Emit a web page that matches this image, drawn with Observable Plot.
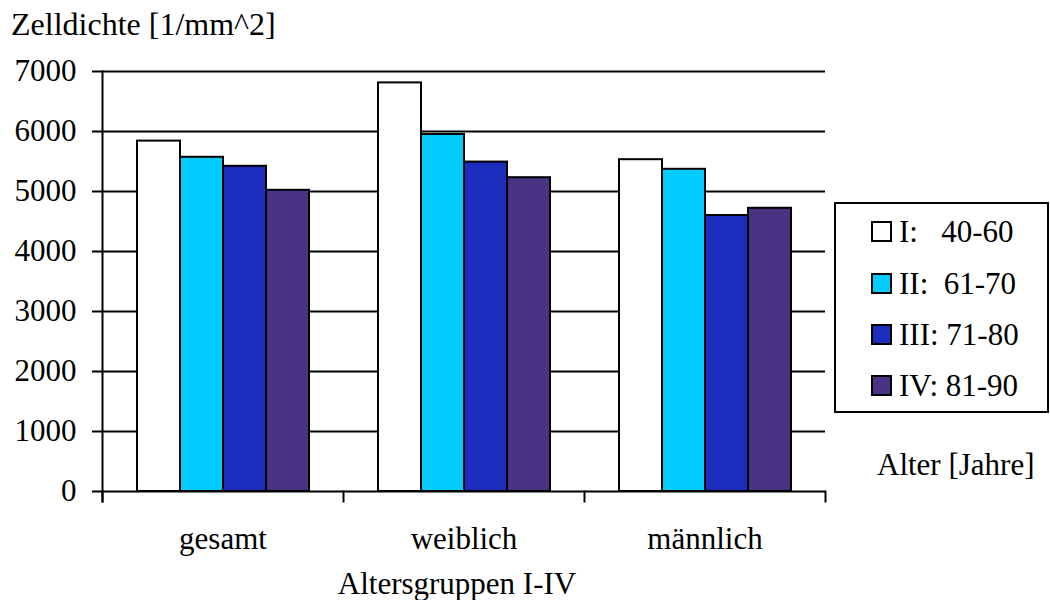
<!DOCTYPE html>
<html><head><meta charset="utf-8">
<script src="https://cdn.jsdelivr.net/npm/d3@7"></script>
<script src="https://cdn.jsdelivr.net/npm/@observablehq/plot@0.6"></script>
<style>
body{margin:0;background:#fff;}
#wrap{position:relative;width:1050px;height:600px;font-family:"Liberation Serif","Times New Roman",serif;color:#000;overflow:hidden;}
#wrap svg{position:absolute;left:0;top:0;}
.t{position:absolute;font-size:31px;line-height:31px;white-space:pre;}
#legend{position:absolute;left:834px;top:202px;width:215px;height:211px;box-sizing:border-box;border:2px solid #000;background:#fff;}
.sw{position:absolute;width:21px;height:21px;box-sizing:border-box;border:2px solid #000;}
</style></head><body><div id="wrap"></div>
<script>
const groups = ["gesamt", "weiblich", "männlich"];
const seriesKeys = ["I", "II", "III", "IV"];
const seriesLabels = ["I:   40-60", "II:  61-70", "III: 71-80", "IV: 81-90"];
const seriesColors = ["#ffffff", "#00ccff", "#1c2dbe", "#4b3384"];
const valuesGesamt = [5840, 5570, 5420, 5020];
const valuesWeiblich = [6810, 5950, 5490, 5230];
const valuesMaennlich = [5530, 5370, 4600, 4720];
const yTicks = [0, 1000, 2000, 3000, 4000, 5000, 6000, 7000];
const titleText = "Zelldichte [1/mm^2]";
const xLabelText = "Altersgruppen I-IV";
const legendTitleText = "Alter [Jahre]";

const valueRows = [valuesGesamt, valuesWeiblich, valuesMaennlich];
const data = groups.flatMap((g, gi) => seriesKeys.map((s, si) => ({group: g, series: s, value: valueRows[gi][si]})));

const FONT = "Liberation Serif, Times New Roman, serif";

const chart = Plot.plot({
  width: 1050, height: 600,
  marginLeft: 102, marginRight: 225, marginTop: 71, marginBottom: 109,
  style: {fontFamily: FONT, fontSize: "31px", background: "#fff", color: "#000"},
  fx: {domain: groups, padding: 0, label: null},
  x: {domain: seriesKeys, paddingInner: 0, paddingOuter: 0.75, axis: null},
  y: {domain: [0, 7000], label: null},
  color: {domain: seriesKeys, range: seriesColors},
  marks: [
    Plot.ruleY(yTicks, {stroke: "#000", strokeWidth: 2}),
    Plot.barY(data, {fx: "group", x: "series", y: "value", fill: "series", stroke: "#000", strokeWidth: 2}),
    Plot.frame({anchor: "left", facetAnchor: "left", stroke: "#000", strokeWidth: 2, insetBottom: -10}),
    Plot.frame({anchor: "left", stroke: "#000", strokeWidth: 2, insetTop: 420, insetBottom: -10}),
    Plot.frame({anchor: "right", facetAnchor: "right", stroke: "#000", strokeWidth: 2, insetTop: 420, insetBottom: -10}),
    Plot.axisY({ticks: yTicks, tickSize: 10, tickPadding: 16, strokeWidth: 2, fontSize: 31, tickFormat: "d", label: null}),
    Plot.axisFx({anchor: "bottom", tickSize: 0, tickPadding: 35, fontSize: 31, label: null})
  ]
});

const wrap = document.getElementById("wrap");
wrap.appendChild(chart);

function addText(txt, left, top, extra) {
  const d = document.createElement("div");
  d.className = "t";
  d.textContent = txt;
  d.style.left = left + "px";
  d.style.top = top + "px";
  if (extra) Object.assign(d.style, extra);
  wrap.appendChild(d);
  return d;
}
addText(titleText, 11, 8, {fontSize: "32px", lineHeight: "32px"});
addText(xLabelText, 307, 568, {width: "300px", textAlign: "center"});
addText(legendTitleText, 877, 449);

const legend = document.createElement("div");
legend.id = "legend";
wrap.appendChild(legend);
const rowCenters = [231, 283, 334, 385];
seriesKeys.forEach((k, i) => {
  const sw = document.createElement("div");
  sw.className = "sw";
  sw.style.background = seriesColors[i];
  sw.style.left = (871 - 834 - 2) + "px";
  sw.style.top = (rowCenters[i] - 10 - 202 - 2) + "px";
  legend.appendChild(sw);
  const t = document.createElement("div");
  t.className = "t";
  t.textContent = seriesLabels[i];
  t.style.left = (899 - 834 - 2) + "px";
  t.style.top = (rowCenters[i] + 11 - 26 - 202 - 2) + "px";
  legend.appendChild(t);
});
</script></body></html>
